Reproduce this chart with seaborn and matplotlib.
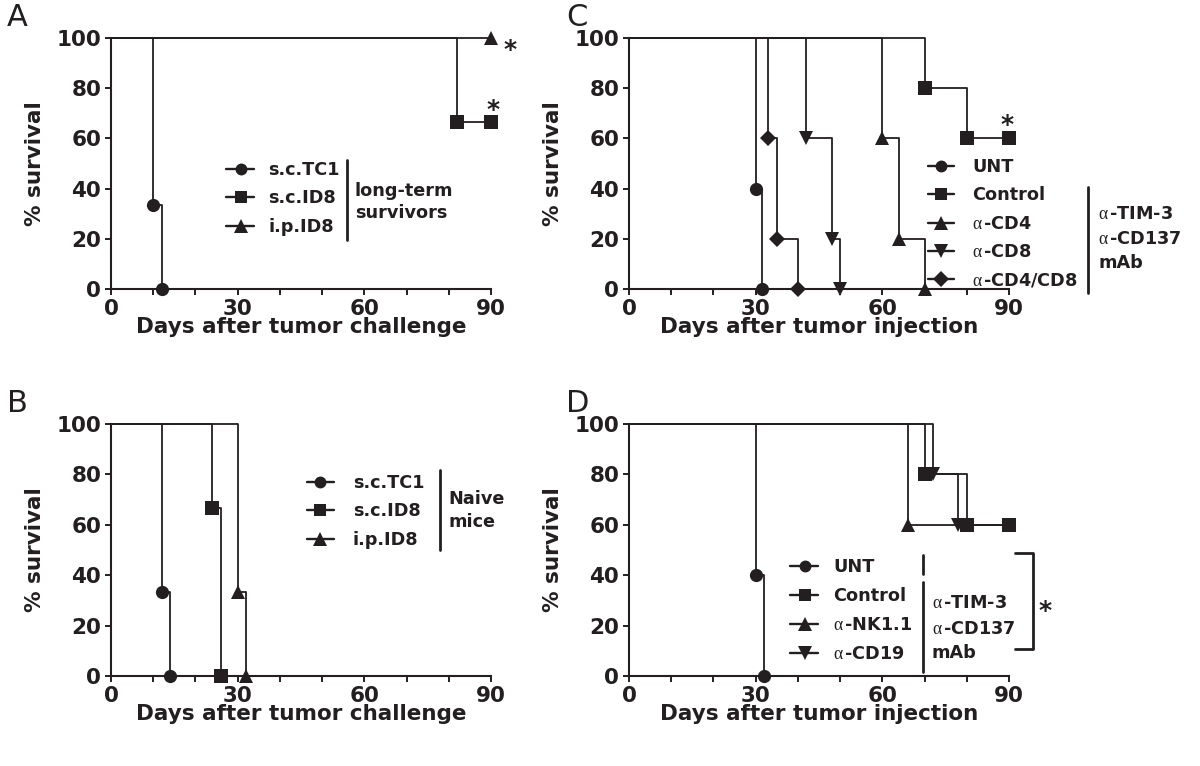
import numpy as np
import pandas as pd
import matplotlib
matplotlib.use("Agg")
import matplotlib.pyplot as plt
import seaborn as sns
from matplotlib.lines import Line2D

sns.set_theme(style="ticks")
plt.rcParams["font.family"] = ["DejaVu Sans"]
plt.rcParams["mathtext.fontset"] = "custom"
plt.rcParams["mathtext.rm"] = "Liberation Serif"
plt.rcParams["mathtext.it"] = "Liberation Serif:italic"
plt.rcParams["mathtext.bf"] = "Liberation Serif:bold"

AL = r"$\mathrm{\alpha}\,$"

# ---------------- data ----------------
# Panel A: long-term survivors re-challenged
a_labels = ["s.c.TC1", "s.c.ID8", "i.p.ID8"]
a_days = [[0, 10, 12], [0, 82, 90], [0, 90]]
a_surv = [[100, 33.3, 0], [100, 66.7, 66.7], [100, 100]]

# Panel B: naive mice
b_labels = ["s.c.TC1", "s.c.ID8", "i.p.ID8"]
b_days = [[0, 12, 14], [0, 24, 26], [0, 30, 32]]
b_surv = [[100, 33.3, 0], [100, 66.7, 0], [100, 33.3, 0]]

# Panel C: depletion of T cells
c_labels = ["UNT", "Control", AL + "-CD4", AL + "-CD8", AL + "-CD4/CD8"]
c_days = [[0, 30, 31.5], [0, 70, 80, 90], [0, 60, 64, 70], [0, 42, 48, 50], [0, 33, 35, 40]]
c_surv = [[100, 40, 0], [100, 80, 60, 60], [100, 60, 20, 0], [100, 60, 20, 0], [100, 60, 20, 0]]

# Panel D: depletion of NK / B cells
d_labels = ["UNT", "Control", AL + "-NK1.1", AL + "-CD19"]
d_days = [[0, 30, 32], [0, 70, 80, 90], [0, 66, 90], [0, 72, 78, 90]]
d_surv = [[100, 40, 0], [100, 80, 60, 60], [100, 60, 60], [100, 80, 60, 60]]
d_end_marker = [True, True, False, False]

group_a = ["long-term", "survivors"]
group_b = ["Naive", "mice"]
group_cd = [AL + "-TIM-3", AL + "-CD137", "mAb"]

x_ticks = [0, 30, 60, 90]
x_minor = [10, 20, 40, 50, 70, 80]
y_ticks = [0, 20, 40, 60, 80, 100]

markers3 = ["o", "s", "^"]
markers5 = ["o", "s", "^", "v", "D"]
markers4 = ["o", "s", "^", "v"]

# ---------------- figure ----------------
W, H = 1200, 766
fig = plt.figure(figsize=(W / 100, H / 100), dpi=100)
fig.patch.set_facecolor("white")
INK = "#231f20"


def fx(px):
    return px / W


def fy(py):
    return 1 - py / H


def mk_axes(l, t, r, b):
    return fig.add_axes([fx(l), fy(b), (r - l) / W, (b - t) / H])


TICK_FS = 15.5
LAB_FS = 15.5
LEG_FS = 12.7
PT = 100 / 72.0


def style_axes(ax, xlabel):
    ax.set_facecolor("white")
    ax.set_xlim(0, 90)
    ax.set_ylim(0, 100)
    ax.set_xticks(x_ticks)
    ax.set_xticks(x_minor, minor=True)
    ax.set_yticks(y_ticks)
    for s in ["top", "right"]:
        ax.spines[s].set_visible(False)
    for s in ["left", "bottom"]:
        ax.spines[s].set_linewidth(1.5)
        ax.spines[s].set_color(INK)
    ax.tick_params(axis="both", which="both", direction="out", length=4.5,
                   width=1.4, color=INK)
    ax.tick_params(axis="y", pad=2.5)
    ax.tick_params(axis="x", pad=2.5)
    for lab in ax.get_xticklabels() + ax.get_yticklabels():
        lab.set_fontsize(TICK_FS)
        lab.set_fontweight("bold")
        lab.set_color(INK)
    ax.set_xlabel(xlabel, fontsize=LAB_FS, fontweight="bold", color=INK, labelpad=-1.5)
    ax.set_ylabel("% survival", fontsize=LAB_FS, fontweight="bold", color=INK, labelpad=8)
    ax.grid(False)


def ms_for(m):
    return {"o": 9.5, "s": 9.5, "^": 10.5, "v": 10.5, "D": 8.5}[m]


def draw_series(ax, days, surv, marker, end_marker=True):
    df = pd.DataFrame({"day": days, "surv": surv})
    n = len(days)
    idx = list(range(1, n if end_marker else n - 1))
    sns.lineplot(data=df, x="day", y="surv", ax=ax, estimator=None, sort=False,
                 drawstyle="steps-post", color=INK, linewidth=1.3,
                 marker=marker, markersize=ms_for(marker), markevery=idx,
                 markeredgewidth=0, clip_on=False, legend=False)


def legend_entry(y, marker, label, x0, x1, xm, xt):
    fig.add_artist(Line2D([fx(x0), fx(x1)], [fy(y), fy(y)], color=INK, lw=1.7,
                          transform=fig.transFigure))
    fig.add_artist(Line2D([fx(xm)], [fy(y)], marker=marker, ms=ms_for(marker) * 0.9,
                          color=INK, mew=0, lw=0, transform=fig.transFigure))
    cap = 0.729 * LEG_FS * PT
    fig.text(fx(xt), fy(y + cap / 2), label, ha="left", va="baseline",
             fontsize=LEG_FS, fontweight="bold", color=INK)


def vbar(x, y0, y1, lw=2.0):
    fig.add_artist(Line2D([fx(x), fx(x)], [fy(y0), fy(y1)], color=INK, lw=lw,
                          transform=fig.transFigure))


def group_text(x, ys, lines):
    cap = 0.729 * LEG_FS * PT
    for y, t in zip(ys, lines):
        fig.text(fx(x), fy(y + cap / 2), t, ha="left", va="baseline",
                 fontsize=LEG_FS, fontweight="bold", color=INK)


def star(x, y, fs=18):
    fig.text(fx(x), fy(y + 0.59 * fs * PT), "*", ha="center", va="baseline",
             fontsize=fs, fontweight="bold", color=INK)


def panel_letter(x, y, t):
    fig.text(fx(x), fy(y), t, ha="left", va="center", fontsize=22, color=INK)


# ---------------- Panel A ----------------
axA = mk_axes(111, 38, 491, 289)
for d, s, m in zip(a_days, a_surv, markers3):
    draw_series(axA, d, s, m)
style_axes(axA, "Days after tumor challenge")
for y, m, lab in zip([169, 197, 226], markers3, a_labels):
    legend_entry(y, m, lab, 226, 254, 241, 268)
vbar(347, 160, 240)
group_text(355, [190, 212], group_a)
star(510, 42)
star(493, 102)

# ---------------- Panel B ----------------
axB = mk_axes(111, 424, 491, 676)
for d, s, m in zip(b_days, b_surv, markers3):
    draw_series(axB, d, s, m)
style_axes(axB, "Days after tumor challenge")
for y, m, lab in zip([482, 510, 539], markers3, b_labels):
    legend_entry(y, m, lab, 307, 334, 320, 353)
vbar(440, 470, 550)
group_text(448, [498, 521], group_b)

# ---------------- Panel C ----------------
axC = mk_axes(629, 38, 1009, 289)
for d, s, m in zip(c_days, c_surv, markers5):
    draw_series(axC, d, s, m)
style_axes(axC, "Days after tumor injection")
for y, m, lab in zip([166, 194, 223, 251, 279], markers5, c_labels):
    legend_entry(y, m, lab, 928, 954, 941, 972)
vbar(1088, 187, 293)
group_text(1098, [213, 238, 262], group_cd)
star(1007, 117)

# ---------------- Panel D ----------------
axD = mk_axes(629, 424, 1009, 676)
for d, s, m, e in zip(d_days, d_surv, markers4, d_end_marker):
    draw_series(axD, d, s, m, e)
style_axes(axD, "Days after tumor injection")
for y, m, lab in zip([566, 595, 624, 653], markers4, d_labels):
    legend_entry(y, m, lab, 790, 818, 805, 833)
vbar(923, 555, 574)
vbar(923, 582, 672)
group_text(932, [602, 628, 652], group_cd)
# bracket
fig.add_artist(Line2D([fx(1015), fx(1033), fx(1033), fx(1015)],
                      [fy(553), fy(553), fy(649), fy(649)], color=INK, lw=2.0,
                      transform=fig.transFigure))
star(1045, 603)

panel_letter(7, 18, "A")
panel_letter(7, 404, "B")
panel_letter(566, 17, "C")
panel_letter(566, 403, "D")

fig.savefig("out.png", dpi=100, facecolor="white")
